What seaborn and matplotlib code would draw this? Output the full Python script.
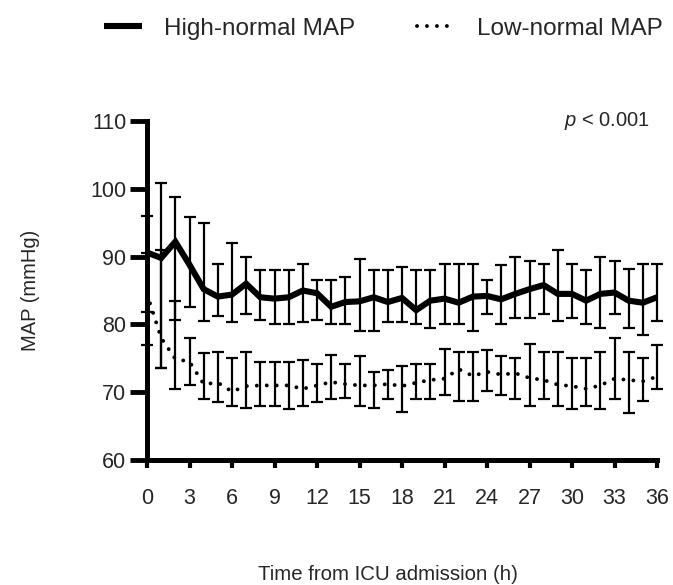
import matplotlib
matplotlib.use("Agg")
import matplotlib.pyplot as plt
import seaborn as sns
import pandas as pd
import numpy as np

hours = list(range(37))
high_mean = [90.6, 89.8, 92.2, 88.8, 85.2, 84.1, 84.4, 86.0, 84.0, 83.8, 84.0, 85.0, 84.6,
             82.6, 83.3, 83.4, 84.0, 83.3, 83.9, 82.1, 83.5, 83.8, 83.2, 84.1, 84.2, 83.7,
             84.5, 85.2, 85.8, 84.5, 84.5, 83.5, 84.5, 84.7, 83.5, 83.2, 84.0]
high_upper = [96.0, 100.9, 98.8, 95.9, 95.0, 88.9, 92.0, 90.0, 88.0, 88.0, 88.0, 88.9, 86.6,
              86.6, 87.0, 89.7, 88.0, 88.0, 88.4, 88.0, 88.0, 88.9, 88.9, 88.9, 86.6, 88.7,
              90.0, 89.4, 88.9, 90.9, 88.9, 88.0, 90.0, 89.4, 88.2, 88.9, 88.9]
high_lower = [81.9, 73.6, 80.7, 82.5, 80.5, 81.3, 80.4, 81.5, 80.7, 80.0, 80.0, 80.4, 80.7,
              80.0, 80.0, 79.0, 79.0, 80.4, 80.4, 80.0, 79.5, 80.0, 80.0, 79.0, 81.5, 80.0,
              81.0, 81.0, 81.5, 80.5, 81.0, 80.0, 79.5, 81.5, 79.5, 78.5, 80.5]
low_mean = [84.5, 78.0, 74.9, 74.5, 71.2, 71.4, 70.1, 70.9, 71.0, 71.0, 71.0, 70.5, 71.0,
            71.5, 71.2, 71.0, 71.0, 71.2, 70.9, 71.4, 71.8, 72.0, 73.4, 72.4, 73.0, 72.6,
            72.8, 72.1, 71.8, 71.1, 70.9, 70.5, 71.0, 72.0, 71.8, 71.6, 72.3]
low_upper = [90.6, 90.9, 83.4, 78.0, 75.8, 75.9, 75.0, 75.9, 74.5, 74.5, 74.5, 74.7, 74.1,
             75.5, 74.1, 75.3, 73.0, 73.3, 73.8, 74.1, 74.1, 76.4, 75.9, 75.9, 76.2, 75.4,
             75.0, 77.1, 75.9, 75.9, 75.0, 75.0, 75.9, 78.0, 75.9, 75.0, 77.0]
low_lower = [77.0, 73.6, 70.5, 71.0, 69.0, 68.6, 67.9, 67.7, 68.0, 67.9, 67.5, 68.0, 68.6,
             69.0, 69.2, 67.9, 67.6, 69.0, 67.1, 69.0, 69.0, 69.6, 68.7, 68.7, 70.2, 69.6,
             69.0, 67.9, 69.0, 67.9, 67.5, 67.9, 67.5, 69.0, 67.0, 68.7, 70.4]
series_names = ["High-normal MAP", "Low-normal MAP"]
x_ticks = list(range(0, 37, 3))
y_ticks = [60, 70, 80, 90, 100, 110]

sns.set_theme(style="ticks")
plt.rcParams["font.family"] = ["Liberation Sans", "DejaVu Sans"]
plt.rcParams["mathtext.fontset"] = "custom"
plt.rcParams["mathtext.it"] = "Liberation Sans:italic"
plt.rcParams["mathtext.rm"] = "Liberation Sans"

df = pd.DataFrame({
    "hour": hours * 2,
    "map": high_mean + low_mean,
    "lower": high_lower + low_lower,
    "upper": high_upper + low_upper,
    "group": [series_names[0]] * len(hours) + [series_names[1]] * len(hours),
})

fig = plt.figure(figsize=(6.73, 5.85), dpi=100)
ax = fig.add_axes([147 / 673, 125 / 585, 510 / 673, 339 / 585])

# error bars
for name in series_names:
    d = df[df["group"] == name]
    yerr = np.vstack([d["map"] - d["lower"], d["upper"] - d["map"]])
    eb = ax.errorbar(d["hour"], d["map"], yerr=yerr, fmt="none", ecolor="black",
                     elinewidth=1.6, capsize=4.3, capthick=1.6, zorder=2)
    for art in list(eb.lines[1]) + list(eb.lines[2]):
        art.set_clip_on(False)

sns.lineplot(data=df[df["group"] == series_names[0]], x="hour", y="map", ax=ax,
             color="black", linewidth=4.4, label=series_names[0], zorder=3,
             solid_capstyle="butt", solid_joinstyle="miter")
sns.lineplot(data=df[df["group"] == series_names[1]], x="hour", y="map", ax=ax,
             color="black", linewidth=2.8, label=series_names[1], zorder=3,
             linestyle=(0, (0.01, 2.55)), dash_capstyle="round")

ax.set_xlim(0, 36)
ax.set_ylim(60, 110)
ax.set_xticks(x_ticks)
ax.set_yticks(y_ticks)
ax.set_xlabel("")
ax.set_ylabel("")
sns.despine(ax=ax)
for s in ["left", "bottom"]:
    ax.spines[s].set_linewidth(3.6)
    ax.spines[s].set_color("black")
    ax.spines[s].set_zorder(5)
ax.tick_params(axis="x", length=5.4, width=3, pad=15, labelsize=15.5, color="black")
ax.tick_params(axis="y", length=12, width=3.5, pad=3, labelsize=15.5, color="black")

fig.text(30 / 673, 1 - 290 / 585, "MAP (mmHg)", rotation=90, ha="center", va="center",
         fontsize=14.5)
fig.text(388 / 673, 1 - 574 / 585, "Time from ICU admission (h)", ha="center", va="center",
         fontsize=14.7)
fig.text(650 / 673, 1 - 121 / 585, "$p$ < 0.001", ha="right", va="center", fontsize=14.5)

leg = ax.legend(loc="center left", bbox_to_anchor=(103.5 / 673, 1 - 28.5 / 585),
                bbox_transform=fig.transFigure, ncol=2, frameon=False, fontsize=17.5,
                handlelength=1.6, handletextpad=0.87, columnspacing=2.55,
                borderpad=0, borderaxespad=0)

fig.savefig("out.png", dpi=100)
